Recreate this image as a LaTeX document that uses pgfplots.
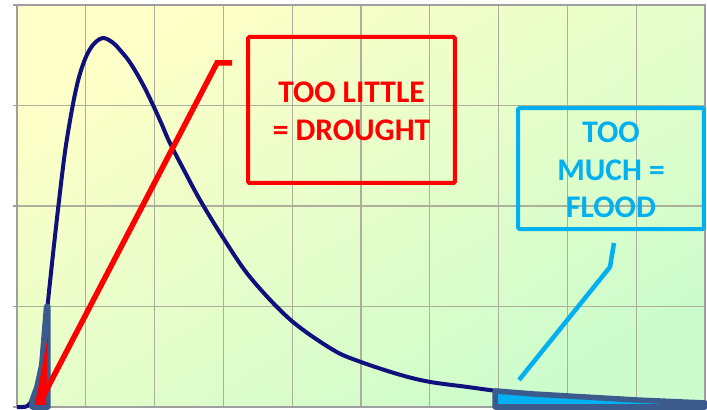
\documentclass[border=0pt]{standalone}
\usepackage{fontspec}
\setmainfont{Carlito}
\usepackage{pgfplots}
\pgfplotsset{compat=1.18}
\definecolor{bgY}{RGB}{255,255,200}
\definecolor{bgG}{RGB}{204,252,204}
\definecolor{gridc}{RGB}{172,176,155}
\definecolor{curvec}{RGB}{16,16,125}
\definecolor{tailc}{RGB}{59,91,140}
\definecolor{cyanc}{RGB}{0,176,240}
\definecolor{redc}{RGB}{255,0,0}
\begin{document}
\begin{tikzpicture}
\begin{axis}[
  scale only axis, width=688bp, height=402bp,
  xmin=0, xmax=10, ymin=0, ymax=4,
  xtick={0,...,10}, ytick={0,...,4},
  xticklabels={}, yticklabels={},
  grid=major,
  major grid style={gridc, line width=1.2bp},
  axis line style={draw=gray!75, line width=1.5bp},
  tick pos=left, tick align=outside, major tick length=4bp,
  ytick style={gray!75, line width=1.2bp},
  xtick style={draw=none},
  axis background/.style={top color=bgY, bottom color=bgG, shading angle=30},
  clip=false,
]
% main curve
\addplot[curvec, line width=4bp, smooth, tension=0.55] coordinates {
(0,0) (0.08,0) (0.15,0.01) (0.22,0.07) (0.29,0.2) (0.36,0.42) (0.44,0.98)
(0.52,1.5) (0.60,1.99) (0.70,2.55) (0.81,3.00) (0.90,3.28) (1.0,3.48)
(1.1,3.60) (1.2,3.66) (1.27,3.67) (1.34,3.65) (1.42,3.61) (1.5,3.55)
(1.62,3.45) (1.74,3.32) (1.86,3.17) (1.98,3.00) (2.10,2.82) (2.22,2.63)
(2.44,2.34) (2.66,2.06) (2.99,1.69) (3.39,1.29) (3.97,0.87) (4.59,0.57)
(4.99,0.45) (5.57,0.32) (6.00,0.25) (6.54,0.20) (6.98,0.16) (7.5,0.13)
(8.0,0.11) (8.5,0.09) (9.0,0.07) (9.5,0.055) (10,0.04)};
% left tail (drought)
\addplot[draw=tailc, fill=redc, line width=5.5bp, line join=round] coordinates {
(0.22,0) (0.22,0.07) (0.29,0.2) (0.36,0.42) (0.43,1.0) (0.45,1.0) (0.45,0)} -- cycle;
\addplot[draw=none, fill=redc] coordinates {(0.262,0.02) (0.422,0.02) (0.451,0.716)} -- cycle;
% right tail (flood)
\addplot[draw=tailc, fill=cyanc, line width=5.5bp, line join=round] coordinates {
(6.95,0) (6.95,0.16) (7.5,0.13) (8.0,0.11) (8.5,0.09) (9.0,0.07) (9.5,0.055) (10,0.04) (10,0)} -- cycle;
% pointer lines
\addplot[redc, line width=5.5bp] coordinates {(0.33,0.04) (2.907,3.423) (3.125,3.423)};
\addplot[cyanc, line width=4.5bp] coordinates {(7.297,0.269) (8.619,1.393) (8.677,1.632)};
% boxes
\draw[redc, line width=4bp, rounded corners=1.5bp] (axis cs:3.358,2.229) rectangle (axis cs:6.366,3.682);
\draw[cyanc, line width=4bp, rounded corners=1.5bp] (axis cs:7.282,1.771) rectangle (axis cs:9.985,2.975);
\node[text=redc, font=\fontsize{31.5bp}{38bp}\selectfont\bfseries, align=center] at (axis cs:4.862,2.945) {TOO LITTLE\\= DROUGHT};
\node[text=cyanc, font=\fontsize{31.5bp}{37.5bp}\selectfont\bfseries, align=center] at (axis cs:8.634,2.358) {TOO\\MUCH =\\FLOOD};
\end{axis}
\pgfresetboundingbox
\path[use as bounding box] (-17bp,-3bp) rectangle (690bp,407bp);
\end{tikzpicture}
\end{document}
